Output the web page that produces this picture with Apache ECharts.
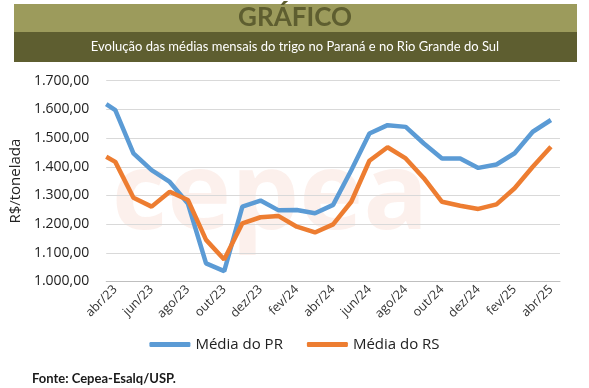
<!DOCTYPE html>
<html>
<head>
<meta charset="utf-8">
<script src="https://cdn.jsdelivr.net/npm/echarts@6/dist/echarts.min.js"></script>
<style>html,body{margin:0;padding:0;background:#fff}#c{width:589px;height:388px}</style>
</head>
<body>
<div id="c"></div>
<script>
const months = ['abr/23','mai/23','jun/23','jul/23','ago/23','set/23','out/23','nov/23','dez/23','jan/24','fev/24','mar/24','abr/24','mai/24','jun/24','jul/24','ago/24','set/24','out/24','nov/24','dez/24','jan/25','fev/25','mar/25','abr/25'];
const prLead = 1618;
const rsLead = 1435;
const prValues = [1597,1447,1388,1347,1272,1063,1036,1261,1282,1248,1249,1238,1267,1388,1516,1545,1539,1481,1429,1429,1396,1408,1447,1522,1563];
const rsValues = [1417,1292,1261,1313,1284,1145,1077,1203,1224,1228,1191,1171,1199,1278,1421,1468,1429,1360,1278,1264,1253,1269,1325,1400,1470];
const yTicks = [1000,1100,1200,1300,1400,1500,1600,1700];

function pairs(lead, vals){ return [[-0.5, lead]].concat(vals.map((v,i)=>[i,v])); }
function fmt(v){ const s = Math.round(v).toString(); return s.replace(/\B(?=(\d{3})+(?!\d))/g,'.') + ',00'; }

const chart = echarts.init(document.getElementById('c'));
chart.setOption({
  backgroundColor:'#fff',
  animation:false,
  textStyle:{fontFamily:'Open Sans'},
  graphic:[
    {type:'rect', shape:{x:14,y:4,width:563,height:28}, style:{fill:'#9c9b5c'}, z:-10},
    {type:'rect', shape:{x:14,y:32,width:563,height:30}, style:{fill:'#5e5e30'}, z:-10},
    {type:'text', x:295, y:18, style:{text:'GRÁFICO', font:'bold 26px Lato', fill:'#5e5e30', align:'center', verticalAlign:'middle'}},
    {type:'text', x:295, y:47, style:{text:'Evolução das médias mensais do trigo no Paraná e no Rio Grande do Sul', font:'13px Lato', fill:'#ffffff', align:'center', verticalAlign:'middle'}},
    {type:'text', x:270, y:198, z:-5, style:{text:'cepea', font:'bold 108px "Open Sans"', fill:'rgba(230,140,110,0.13)', align:'center', verticalAlign:'middle'}},
    {type:'text', x:32, y:379, style:{text:'Fonte: Cepea-Esalq/USP.', font:'bold 13px Lato', fill:'#1a1a1a', align:'left', verticalAlign:'middle'}}
  ],
  grid:{left:95, right:29, top:80.7, bottom:106.5},
  legend:{
    bottom:31, left:'center', itemGap:24, itemWidth:41, itemHeight:5, icon:'roundRect',
    textStyle:{fontSize:15, color:'#222', fontFamily:'Open Sans'},
    data:['Média do PR','Média do RS']
  },
  xAxis:[
    {type:'category', data:months, boundaryGap:true,
     axisLine:{lineStyle:{color:'#bfbfbf'}},
     axisTick:{interval:1, length:5, lineStyle:{color:'#bfbfbf'}},
     axisLabel:{interval:1, rotate:45, fontSize:12.5, color:'#333', margin:6, fontFamily:'Open Sans'},
     splitLine:{show:false}},
    {type:'value', min:-0.5, max:24.5, show:false}
  ],
  yAxis:{type:'value', min:1000, max:1700, interval:100,
    name:'R$/tonelada', nameLocation:'middle', nameGap:82,
    nameTextStyle:{fontSize:15, color:'#222', fontFamily:'Open Sans'},
    axisLine:{show:false}, axisTick:{show:false},
    axisLabel:{fontSize:14, color:'#222', margin:17, fontFamily:'Open Sans', formatter:v=>fmt(v)},
    splitLine:{lineStyle:{color:'#d9d9d9', width:1}}
  },
  series:[
    {name:'Média do PR', type:'line', xAxisIndex:1, data:pairs(prLead, prValues), symbol:'none', lineStyle:{width:4.5, color:'#5b9bd5'}, itemStyle:{color:'#5b9bd5'}},
    {name:'Média do RS', type:'line', xAxisIndex:1, data:pairs(rsLead, rsValues), symbol:'none', lineStyle:{width:4.5, color:'#ed7d31'}, itemStyle:{color:'#ed7d31'}}
  ]
});
</script>
</body>
</html>
